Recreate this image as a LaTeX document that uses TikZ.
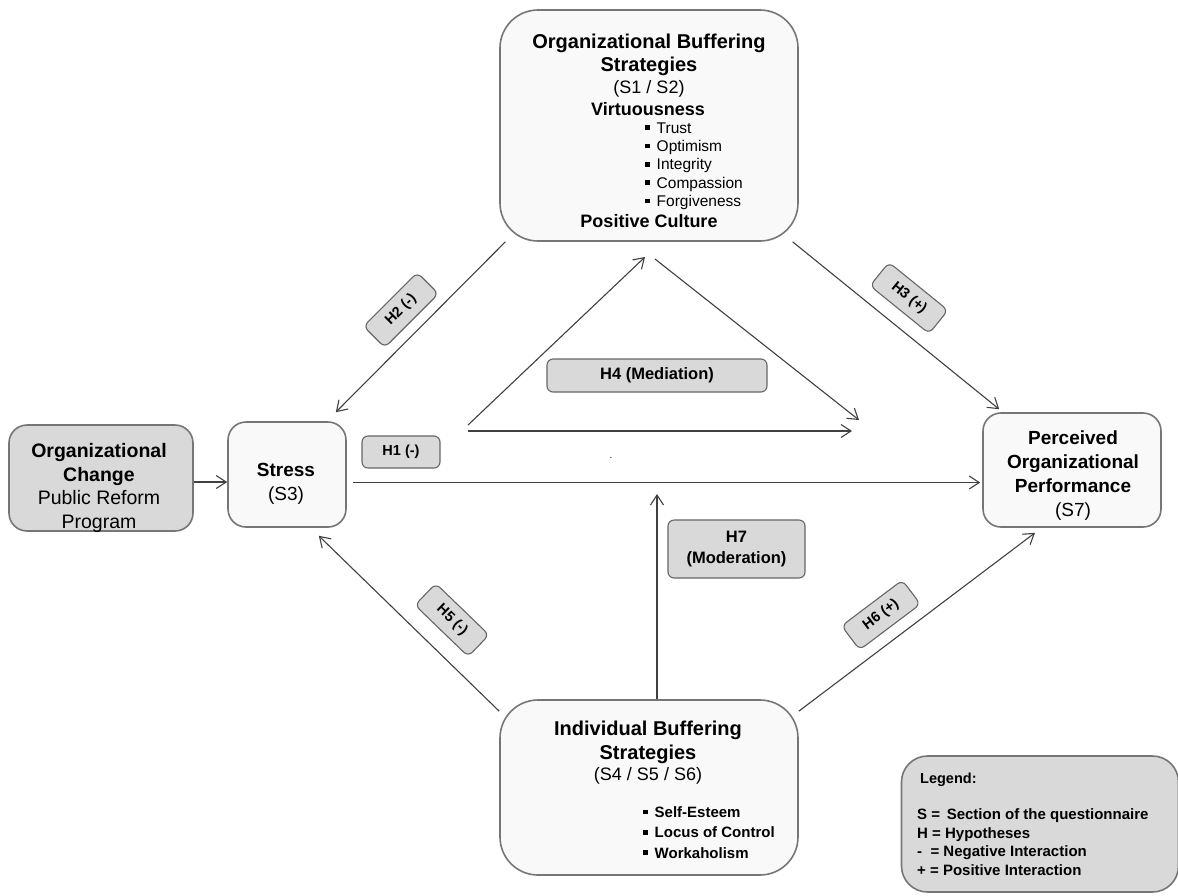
\documentclass[tikz,border=0pt]{standalone}
\usepackage{fontspec}
\setmainfont{Liberation Sans}
\usetikzlibrary{arrows.meta}
\definecolor{boxline}{RGB}{118,118,118}
\definecolor{arrline}{RGB}{64,64,64}
\definecolor{lightfill}{RGB}{249,249,249}
\definecolor{darkfill}{RGB}{217,217,217}
\newcommand{\sqbullet}{\makebox[11.5pt][l]{\rule[0.22em]{4.5pt}{4.5pt}}}

\begin{document}
\begin{tikzpicture}[x=1pt, y=-1pt, >={Straight Barb[length=10pt,width=13pt]},
        every node/.append style={inner sep=0pt}]
      \tikzstyle{box} = [draw=boxline, line width=1.6pt, rounded corners=18pt, fill=lightfill]
      \tikzstyle{bigbox} = [box, rounded corners=38pt, minimum width=298pt]
      \tikzstyle{hyp} = [draw=arrline!80, line width=1.1pt, rounded corners=6pt, fill=darkfill,
        font=\fontsize{14.5}{17}\selectfont\bfseries, minimum width=76pt, minimum height=30pt]
      \tikzstyle{arr} = [->, draw=arrline, line width=1.1pt]
      \tikzstyle{title} = [align=center, anchor=north, font=\fontsize{20}{23.3}\selectfont\bfseries]
      \tikzstyle{sub} = [align=center, anchor=north, font=\fontsize{18}{22}\selectfont]
      \tikzstyle{small} = [align=center, anchor=north, font=\fontsize{19}{23.7}\selectfont]
      \useasboundingbox (0,0) rectangle (1178,895);
      \node [bigbox, minimum height=231pt] (OBS) at (649,125.5) {};
      \node [box, fill=darkfill, minimum width=184pt, minimum height=106pt] (ORG) at (101,478) {};
      \node [box, minimum width=118pt, minimum height=105pt] (STRESS) at (287,474.5) {};
      \node [box, minimum width=178pt, minimum height=114pt] (POP) at (1072,470) {};
      \node [bigbox, minimum height=175pt] (IBS) at (649,787.5) {};
      \node [box, fill=darkfill, rounded corners=26pt, minimum width=277pt, minimum height=136pt] (LEG) at (1040,824) {};
      \node [title] (OBSTITLE) at (649,34) {Organizational Buffering\\Strategies};
      \node [sub] (OBSSEC) at (649,80.5) {(S1 / S2)};
      \node [sub, font=\fontsize{18}{22}\selectfont\bfseries] (OBSVIRT) at (648,102.5) {Virtuousness};
      \node [anchor=north west, align=left, font=\fontsize{15.5}{18.3}\selectfont] (OBSLIST) at (645,122.5)
        {\sqbullet Trust\\\sqbullet Optimism\\\sqbullet Integrity\\\sqbullet Compassion\\\sqbullet Forgiveness};
      \node [sub, font=\fontsize{18}{22}\selectfont\bfseries] (OBSCULT) at (649,214.5) {Positive Culture};
      \node [small, font=\fontsize{19.5}{23.7}\selectfont] (ORGTXT) at (99,443) {\textbf{Organizational}\\\textbf{Change}\\Public Reform\\Program};
      \node [small] (STRESSTXT) at (286,463) {\textbf{Stress}\\(S3)};
      \node [small] (POPTXT) at (1073,431) {\textbf{Perceived}\\\textbf{Organizational}\\\textbf{Performance}\\(S7)};
      \node [title] (IBSTITLE) at (648,721) {Individual Buffering\\Strategies};
      \node [sub] (IBSSEC) at (648,767.5) {(S4 / S5 / S6)};
      \node [anchor=north west, align=left, font=\fontsize{15}{20.3}\selectfont\bfseries] (IBSLIST) at (643,806.5)
        {\sqbullet Self-Esteem\\\sqbullet Locus of Control\\\sqbullet Workaholism};
      \node [anchor=north west, font=\fontsize{14.5}{16}\selectfont\bfseries] (LEGHEAD) at (920,772.5) {Legend:};
      \node [anchor=north west, align=left, font=\fontsize{15}{18.7}\selectfont\bfseries] (LEGLIST) at (917,808.5)
        {S =\ \,Section of the questionnaire\\H = Hypotheses\\- \ = Negative Interaction\\+ = Positive Interaction};
      \coordinate (MEDA) at (468,425);
      \coordinate (MEDB) at (645,257);
      \coordinate (MEDC) at (655,259);
      \coordinate (MEDD) at (859,420);
      \coordinate (MEDE) at (468,431);
      \coordinate (MEDF) at (852,431);
      \coordinate (H7END) at (657,494);
      \draw [arr] ([yshift=-4pt]ORG.east) -- ([yshift=-4pt]ORG.east -| STRESS.west);
      \draw [arr, shorten >=8pt] ([shift={(6pt,-8pt)}]STRESS.east) -- ([shift={(6pt,-8pt)}]STRESS.east -| POP.west);
      \draw [arr] (OBS.219) -- ([shift={(-11pt,9pt)}]STRESS.north east);
      \draw [arr] (OBS.321) -- ([shift={(17pt,3pt)}]POP.north west);
      \draw [arr] (IBS.153) -- ([shift={(-28pt,-8pt)}]STRESS.south east);
      \draw [arr] (IBS.27) -- ([shift={(-37pt,-5pt)}]POP.south);
      \draw [arr] (IBS.north -| H7END) -- (H7END);
      \draw [arr] (MEDA) -- (MEDB);
      \draw [arr] (MEDC) -- (MEDD);
      \draw [arr] (MEDE) -- (MEDF);
      \node [hyp, minimum width=78pt, minimum height=32pt] (H1) at (401,452) {H1 (-)};
      \node [hyp, rotate=45] (H2) at (401,310) {H2 (-)};
      \node [hyp, rotate=-39] (H3) at (909,298) {H3 (+)};
      \node [hyp, font=\fontsize{16.5}{21}\selectfont\bfseries, minimum width=220pt, minimum height=33pt] (H4) at (657,375.5) {H4 (Mediation)};
      \node [hyp, rotate=-44, minimum width=74pt] (H5) at (452,620) {H5 (-)};
      \node [hyp, rotate=37] (H6) at (881,615) {H6 (+)};
      \node [hyp, align=center, font=\fontsize{16.5}{21}\selectfont\bfseries, minimum width=137pt, minimum height=58pt] (H7) at (736.5,549) {H7\\(Moderation)};
      \node [font=\fontsize{10}{12}\selectfont] (DOT) at (611,458) {.};
\end{tikzpicture}
\end{document}
